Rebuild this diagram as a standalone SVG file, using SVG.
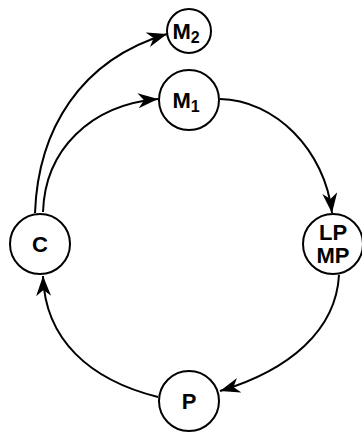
<svg xmlns="http://www.w3.org/2000/svg" width="362" height="433" viewBox="0 0 362 433">
  <style>
    .node circle { fill: #fff; stroke: #000; stroke-width: 2; }
    .node text { font-family: "Liberation Sans", Arial, sans-serif; font-weight: bold; font-size: 22px; text-anchor: middle; fill: #000; }
    .node text .sub { font-size: 16px; }
    .edge { fill: none; stroke: #000; stroke-width: 2; marker-end: url(#arrow); }
  </style>
  <defs>
    <marker id="arrow" markerUnits="userSpaceOnUse" markerWidth="22" markerHeight="16" refX="20" refY="7.5" orient="auto">
      <path d="M0,0 L20,7.5 L0,15 L6,7.5 z" fill="#000"/>
    </marker>
  </defs>

  <g id="connectors">
    <path class="edge" d="M35,213 C38,130 80,60 167,34"/>
    <path class="edge" d="M43,212 C45,150 90,105 158,99"/>
    <path class="edge" d="M220,99 C275,100 325,150 332,213"/>
    <path class="edge" d="M339,275 C336,330 290,370 220,391"/>
    <path class="edge" d="M158,397 C90,380 45,340 43,276"/>
  </g>

  <g id="node-m2" class="node">
    <circle cx="189" cy="31" r="22"/>
    <text x="186" y="39">M<tspan class="sub" dy="4">2</tspan></text>
  </g>
  <g id="node-m1" class="node">
    <circle cx="189" cy="100" r="30"/>
    <text x="186" y="108">M<tspan class="sub" dy="4">1</tspan></text>
  </g>
  <g id="node-c" class="node">
    <circle cx="40" cy="244" r="30"/>
    <text x="40" y="252">C</text>
  </g>
  <g id="node-lpmp" class="node">
    <circle cx="333" cy="244" r="30"/>
    <text x="333" y="240">LP</text>
    <text x="333" y="263">MP</text>
  </g>
  <g id="node-p" class="node">
    <circle cx="189" cy="401" r="30"/>
    <text x="189" y="409">P</text>
  </g>
</svg>
